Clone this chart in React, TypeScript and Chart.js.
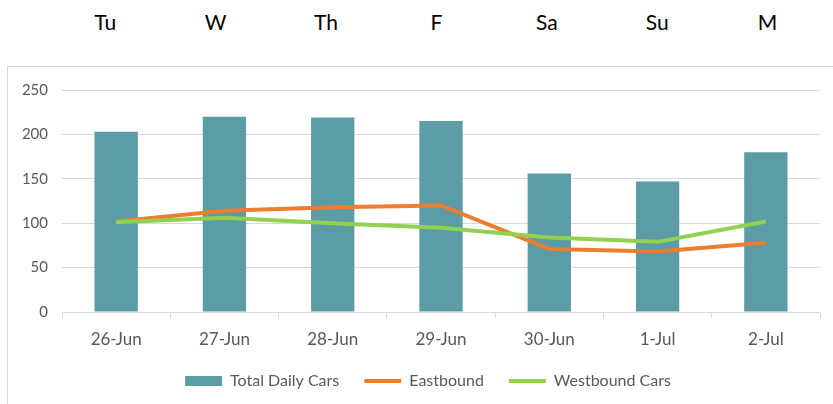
import React, { useEffect, useRef } from "react";
import { Chart, registerables } from "chart.js";

Chart.register(...registerables);

const categories = ["26-Jun", "27-Jun", "28-Jun", "29-Jun", "30-Jun", "1-Jul", "2-Jul"];
const dayLabels = ["Tu", "W", "Th", "F", "Sa", "Su", "M"];
const totalDailyCars = [203, 220, 219, 215, 156, 147, 180];
const eastbound = [102, 114, 118, 120, 71, 68, 78];
const westboundCars = [101, 106, 100, 95, 84, 79, 102];

const TEAL = "#5B9CA5";
const ORANGE = "#ED7D31";
const GREEN = "#92D050";
const GRID = "#D9D9D9";
const TEXT = "#595959";
const FONT = "Lato, 'Open Sans', sans-serif";

const legendShift = {
  id: "legendShift",
  afterLayout(chart: any) {
    if (chart.legend) chart.legend.left += 28;
  },
};

export default function App() {
  const canvasRef = useRef<HTMLCanvasElement | null>(null);

  useEffect(() => {
    const canvas = canvasRef.current;
    if (!canvas) return;
    const chart = new Chart(canvas, {
      type: "bar",
      data: {
        labels: categories,
        datasets: [
          {
            type: "line",
            label: "Eastbound",
            data: eastbound,
            borderColor: ORANGE,
            backgroundColor: ORANGE,
            borderWidth: 4,
            pointRadius: 0,
            tension: 0,
            order: 1,
          },
          {
            type: "line",
            label: "Westbound Cars",
            data: westboundCars,
            borderColor: GREEN,
            backgroundColor: GREEN,
            borderWidth: 4,
            pointRadius: 0,
            tension: 0,
            order: 0,
          },
          {
            type: "bar",
            label: "Total Daily Cars",
            data: totalDailyCars,
            backgroundColor: TEAL,
            borderWidth: 0,
            categoryPercentage: 1,
            barPercentage: 0.4,
            order: 2,
          },
        ],
      },
      plugins: [legendShift],
      options: {
        animation: false,
        responsive: false,
        maintainAspectRatio: false,
        layout: { padding: { top: 21, right: 13, bottom: 18, left: 0 } },
        plugins: {
          tooltip: { enabled: false },
          legend: {
            position: "bottom",
            labels: {
              usePointStyle: true,
              pointStyleWidth: 37,
              boxHeight: 10,
              padding: 25,
              color: TEXT,
              font: { family: FONT, size: 16 },
              generateLabels: () => [
                { text: "Total Daily Cars", fillStyle: TEAL, strokeStyle: TEAL, lineWidth: 0, pointStyle: "rect", fontColor: TEXT, datasetIndex: 2 },
                { text: "Eastbound", fillStyle: ORANGE, strokeStyle: ORANGE, lineWidth: 4, pointStyle: "line", fontColor: TEXT, datasetIndex: 0 },
                { text: "Westbound Cars", fillStyle: GREEN, strokeStyle: GREEN, lineWidth: 4, pointStyle: "line", fontColor: TEXT, datasetIndex: 1 },
              ] as any,
            },
          },
        },
        scales: {
          x: {
            grid: {
              display: true,
              drawOnChartArea: false,
              drawTicks: true,
              tickLength: 6,
              color: GRID,
              offset: true,
            },
            border: { display: true, color: GRID, width: 1 },
            ticks: { color: TEXT, font: { family: FONT, size: 17 }, padding: 11 },
            afterFit: (s: any) => {
              s.height = 36;
            },
          },
          y: {
            min: 0,
            max: 250,
            ticks: { stepSize: 50, color: TEXT, font: { family: FONT, size: 15 }, padding: 14 },
            grid: { color: GRID, lineWidth: 1, drawTicks: false },
            border: { display: false },
            afterFit: (s: any) => {
              s.width = 54;
            },
          },
        },
      },
    });
    return () => chart.destroy();
  }, []);

  return (
    <div style={{ position: "fixed", left: 0, top: 0, width: 833, height: 404, overflow: "hidden", background: "#fff" }}>
      <div style={{ position: "absolute", left: 50, top: 6, display: "flex" }}>
        {dayLabels.map((d) => (
          <div
            key={d}
            style={{
              width: 110.4,
              textAlign: "center",
              fontFamily: FONT,
              fontSize: 21,
              fontWeight: 400,
              lineHeight: "32px",
              color: "#000",
            }}
          >
            {d}
          </div>
        ))}
      </div>
      <div
        style={{
          position: "absolute",
          left: 7,
          top: 66,
          width: 840,
          height: 360,
          border: `1px solid ${GRID}`,
          boxSizing: "border-box",
        }}
      >
        <canvas ref={canvasRef} width={825} height={350} style={{ display: "block" }} />
      </div>
    </div>
  );
}
